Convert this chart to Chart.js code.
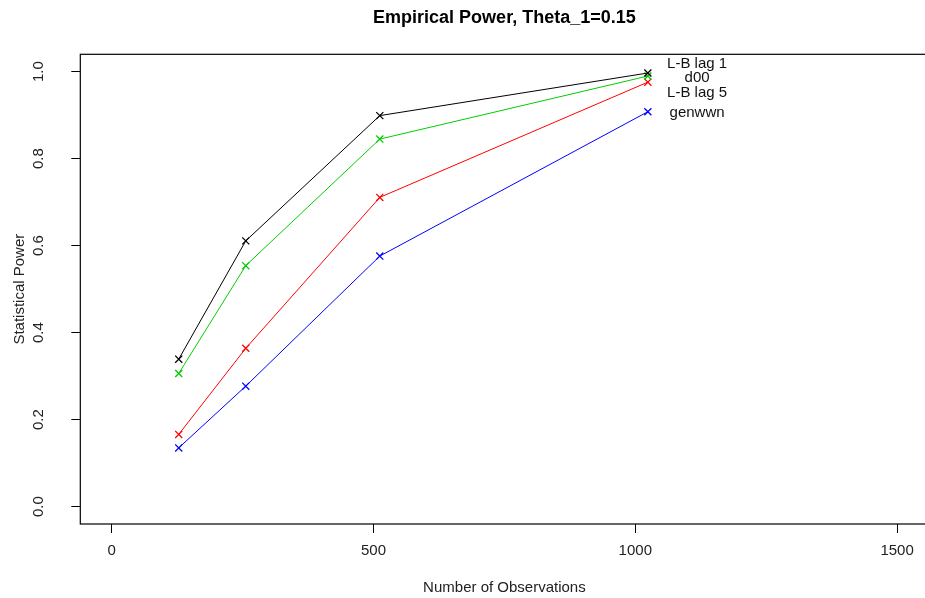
<!DOCTYPE html>
<html>
<head>
<meta charset="utf-8">
<script src="https://cdn.jsdelivr.net/npm/chart.js@4/dist/chart.umd.min.js"></script>
<style>
  html, body { margin: 0; padding: 0; background: #fff; overflow: hidden; width: 925px; height: 598px; }
  canvas { display: block; }
</style>
</head>
<body>
<canvas id="powerChart" width="930" height="598"></canvas>
<script>
// sample sizes and empirical power per test
const observations = [128, 256, 512, 1024];
const lbLag1 = [0.339, 0.611, 0.899, 0.997];
const d00 = [0.306, 0.554, 0.845, 0.990];
const lbLag5 = [0.166, 0.364, 0.711, 0.976];
const genwwn = [0.135, 0.277, 0.576, 0.908];

const xTicks = [0, 500, 1000, 1500];
const yTicks = [0, 0.2, 0.4, 0.6, 0.8, 1.0];

// text labels at the right end of the curves
const labelNames = ['L-B lag 1', 'd00', 'L-B lag 5', 'genwwn'];
const labelX = 1118;
const labelY = [1.018, 0.985, 0.952, 0.905];

const FONT = '"Liberation Sans", Arial, sans-serif';

function series(label, values, color) {
  return {
    label: label,
    data: observations.map((x, i) => ({ x: x, y: values[i] })),
    borderColor: color,
    backgroundColor: color,
    borderWidth: 1,
    pointStyle: 'crossRot',
    pointRadius: 5,
    pointBorderWidth: 1.3,
    pointHoverRadius: 5,
    tension: 0,
    fill: false
  };
}

// box, rotated y tick labels and the text labels
const rPlotExtras = {
  id: 'rPlotExtras',
  afterDraw(chart) {
    const ctx = chart.ctx;
    const area = chart.chartArea;
    const xs = chart.scales.x;
    const ys = chart.scales.y;
    ctx.save();
    ctx.strokeStyle = '#000';
    ctx.lineWidth = 1.2;
    ctx.strokeRect(area.left, area.top, area.right - area.left, area.bottom - area.top);

    ctx.fillStyle = '#222';
    ctx.font = '15px ' + FONT;
    ctx.textAlign = 'center';
    ctx.textBaseline = 'middle';
    ys.ticks.forEach(t => {
      ctx.save();
      ctx.translate(39, ys.getPixelForValue(t.value));
      ctx.rotate(-Math.PI / 2);
      ctx.fillText(t.value.toFixed(1), 0, 0);
      ctx.restore();
    });

    ctx.fillStyle = '#111';
    labelNames.forEach((name, i) => {
      ctx.fillText(name, xs.getPixelForValue(labelX), ys.getPixelForValue(labelY[i]));
    });
    ctx.restore();
  }
};

const ctx = document.getElementById('powerChart').getContext('2d');
new Chart(ctx, {
  type: 'line',
  data: {
    datasets: [
      series('L-B lag 1', lbLag1, '#000000'),
      series('d00', d00, '#00CD00'),
      series('L-B lag 5', lbLag5, '#FF0000'),
      series('genwwn', genwwn, '#0000FF')
    ]
  },
  options: {
    responsive: false,
    animation: false,
    layout: { autoPadding: false, padding: { left: 0, right: 1.5, top: 0, bottom: 0 } },
    plugins: {
      legend: { display: false },
      tooltip: { enabled: false },
      title: {
        display: true,
        text: 'Empirical Power, Theta_1=0.15',
        fullSize: false,
        color: '#000',
        font: { family: FONT, size: 18, weight: 'bold' },
        padding: { top: 7.2, bottom: 25.5 }
      }
    },
    scales: {
      x: {
        type: 'linear',
        min: -60,
        max: 1560,
        afterBuildTicks: s => { s.ticks = xTicks.map(v => ({ value: v })); },
        afterFit: s => { s.height = 74; s.paddingLeft = 0; s.paddingRight = 0; },
        grid: { display: true, drawOnChartArea: false, drawTicks: true, tickLength: 9, color: '#000', tickColor: '#000' },
        border: { display: false },
        ticks: { color: '#222', padding: 9, maxRotation: 0, font: { family: FONT, size: 15 }, callback: v => String(v) },
        title: {
          display: true,
          text: 'Number of Observations',
          color: '#222',
          font: { family: FONT, size: 15 },
          padding: { top: 0, bottom: 1 }
        }
      },
      y: {
        type: 'linear',
        min: -0.04,
        max: 1.04,
        afterBuildTicks: s => { s.ticks = yTicks.map(v => ({ value: v })); },
        afterFit: s => { s.width = 80.3; s.paddingTop = 0; s.paddingBottom = 0; },
        grid: { display: true, drawOnChartArea: false, drawTicks: true, tickLength: 9, color: '#000', tickColor: '#000' },
        border: { display: false },
        ticks: { display: false },
        title: {
          display: true,
          text: 'Statistical Power',
          color: '#222',
          font: { family: FONT, size: 15 },
          padding: { top: 10.5, bottom: 0 }
        }
      }
    }
  },
  plugins: [rPlotExtras]
});
</script>
</body>
</html>
